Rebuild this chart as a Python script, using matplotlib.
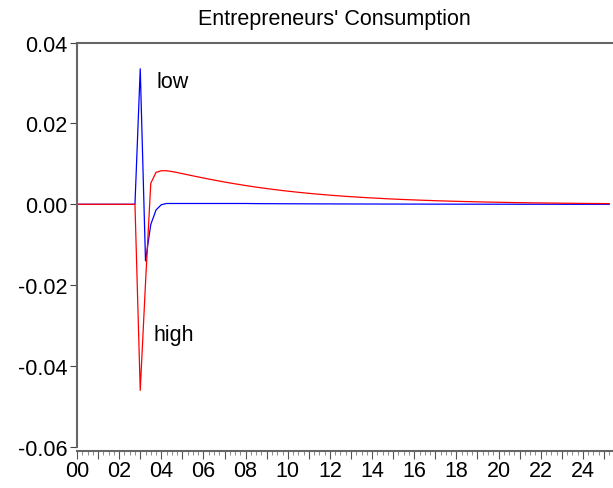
import numpy as np
import matplotlib.pyplot as plt
from matplotlib.ticker import MultipleLocator, FuncFormatter

# quarterly responses, 2000Q1 onwards (index = quarter)
high = [0.0, 0.0, 0.0, 0.0, 0.0, 0.0, 0.0, 0.0, 0.0, 0.0, 0.0, 0.0,
        -0.0460, -0.0195, 0.0052, 0.0079, 0.0083, 0.0083,
        0.00810, 0.00785, 0.00758, 0.00730, 0.00703, 0.00676, 0.00650, 0.00624,
        0.00599, 0.00575, 0.00551, 0.00528, 0.00506, 0.00485, 0.00464, 0.00444,
        0.00425, 0.00407, 0.00389, 0.00372, 0.00356, 0.00340, 0.00325, 0.00311,
        0.00297, 0.00284, 0.00271, 0.00259, 0.00248, 0.00237, 0.00226, 0.00216,
        0.00206, 0.00197, 0.00188, 0.00180, 0.00172, 0.00164, 0.00157, 0.00150,
        0.00143, 0.00136, 0.00130, 0.00124, 0.00118, 0.00113, 0.00108, 0.00103,
        0.00098, 0.00094, 0.00089, 0.00085, 0.00081, 0.00077, 0.00074, 0.00070,
        0.00067, 0.00064, 0.00061, 0.00058, 0.00055, 0.00053, 0.00050, 0.00048,
        0.00045, 0.00043, 0.00041, 0.00039, 0.00037, 0.00035, 0.00034, 0.00032,
        0.00030, 0.00029, 0.00027, 0.00026, 0.00025, 0.00023, 0.00022, 0.00021,
        0.00020, 0.00019, 0.00018, 0.00017]
low = [0.0, 0.0, 0.0, 0.0, 0.0, 0.0, 0.0, 0.0, 0.0, 0.0, 0.0, 0.0,
       0.0335, -0.0140, -0.0050, -0.0014, -0.0001,
       0.0002, 0.0002, 0.0002, 0.0002, 0.0002, 0.0002, 0.0002, 0.0002,
       0.0002, 0.0002, 0.0002, 0.0002, 0.0002, 0.0002, 0.0002, 0.0002,
       0.00018, 0.00017, 0.00016, 0.00015, 0.00015, 0.00014, 0.00014, 0.00013,
       0.00013, 0.00012, 0.00012, 0.00011, 0.00011, 0.00010, 0.00010, 0.00010,
       0.00009, 0.00009, 0.00009, 0.00008, 0.00008, 0.00008, 0.00007, 0.00007,
       0.00007, 0.00006, 0.00006, 0.00006, 0.00006, 0.00005, 0.00005, 0.00005,
       0.00005, 0.00004, 0.00004, 0.00004, 0.00004, 0.00004,
       0.00003, 0.00003, 0.00003, 0.00003, 0.00003, 0.00003, 0.00002, 0.00002,
       0.00002, 0.00002, 0.00002, 0.00002, 0.00002, 0.00001, 0.00001, 0.00001,
       0.00001, 0.00001, 0.00001, 0.00001, 0.00001, 0.0, 0.0, 0.0, 0.0, 0.0,
       0.0, 0.0, 0.0, 0.0, 0.0]
years = np.arange(len(high)) / 4.0  # years since 2000

plt.rcParams['font.family'] = ['Liberation Sans', 'DejaVu Sans']

fig = plt.figure(figsize=(6.13, 4.89), dpi=100)
ax = fig.add_axes([77 / 613, 1 - 448 / 489, 1 - 77 / 613, (448 - 43.5) / 489])

ax.plot(years, low, color='#0000ff', lw=0.9)
ax.plot(years, high, color='#ff0000', lw=0.9)

ax.text(3.75, 0.0304, 'low', fontsize=15.5, va='center')
ax.text(3.62, -0.0323, 'high', fontsize=15.5, va='center')

ax.set_xlim(0, 25.43)
ax.set_ylim(-0.06, 0.04)
fig.text(334 / 613, 1 - 19 / 489, "Entrepreneurs' Consumption", fontsize=15.5,
         ha='center', va='center')

ax.yaxis.set_major_locator(MultipleLocator(0.02))
ax.yaxis.set_major_formatter(FuncFormatter(lambda v, p: f'{v:.2f}'))
ax.xaxis.set_major_locator(MultipleLocator(1))
ax.xaxis.set_major_formatter(
    FuncFormatter(lambda v, p: f'{int(round(v)):02d}' if int(round(v)) % 2 == 0 else ''))
ax.xaxis.set_minor_locator(MultipleLocator(0.25))

ax.tick_params(axis='y', direction='out', length=5, width=0.8, color='#444444',
               labelsize=15.5, pad=2)
ax.tick_params(axis='x', which='major', direction='out', length=5.5, width=0.8,
               color='#555555', labelsize=15.5, pad=1)
ax.tick_params(axis='x', which='minor', direction='out', length=3, width=0.6,
               color='#777777')

for s in ['left', 'top', 'bottom']:
    ax.spines[s].set_color('#666666')
    ax.spines[s].set_linewidth(1.5)
ax.spines['right'].set_visible(False)
ax.spines['bottom'].set_position(('outward', 3))

fig.savefig('out.png', dpi=100)
